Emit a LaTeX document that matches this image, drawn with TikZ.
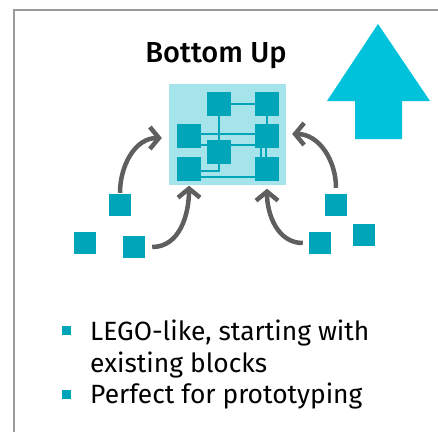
\documentclass[tikz,border=0pt]{standalone}
\usepackage{fontspec}
\setmainfont{Fira Sans}[BoldFont={Fira Sans Medium}]
\usetikzlibrary{arrows.meta}
\definecolor{teal}{HTML}{00A5BA}
\definecolor{hubfill}{HTML}{A6E4EC}
\definecolor{bigcyan}{HTML}{00C3DB}
\definecolor{arrowgray}{HTML}{5F5F5F}
\definecolor{framegray}{HTML}{9B9B9B}
\tikzset{
  block/.style={fill=teal,minimum size=24,inner sep=0},
  loose/.style={fill=teal,minimum size=22,inner sep=0},
  wire/.style={draw=teal,line width=1.2},
  mover/.style={draw=arrowgray,line width=4.5,-{Straight Barb[length=9,width=22,line width=4.5]}},
}
\begin{document}
\begin{tikzpicture}[x=1pt,y=1pt]
\useasboundingbox (0,0) rectangle (438,432);
\draw[framegray,line width=2] (14,0) -- (14,422) -- (438,422);
\node[anchor=base,font=\fontsize{29}{31}\selectfont\bfseries] (title) at (216,370) {Bottom Up};
\fill[bigcyan] (378,408) -- (430,331) -- (402,331) -- (402,293) -- (355,293) -- (355,331) -- (327,331) -- cycle;
% the assembled part
\node[fill=hubfill,minimum width=117,minimum height=101,inner sep=0] (hub) at (227.5,298) {};
\node[block] (bTM) at (219,328) {};
\node[block] (bTR) at (267,328) {};
\node[block] (bML) at (189,296) {};
\node[block] (bMR) at (267,296) {};
\node[block] (bC) at (219,280) {};
\node[block] (bBL) at (189,263) {};
\node[block] (bBR) at (267,263) {};
\draw[wire] (bTM.east) -- (bTR.west);
\draw[wire] (bTM.south) -- (bC.north);
\draw[wire] (bTR.south) -- (bMR.north);
\draw[wire] ([yshift=2]bML.east) -- ([yshift=2]bMR.west);
\draw[wire] ([yshift=-9]bML.east) -- ([yshift=-9]bML.east -| bC.west);
\draw[wire] ([yshift=7]bC.east) -- ([yshift=7]bC.east -| bMR.west);
\draw[wire] ([xshift=-6]bMR.south) -- ([xshift=-6]bBR.north);
\draw[wire] ([xshift=-1]bMR.south) -- ([xshift=-1]bBR.north);
\draw[wire] ([yshift=-2]bBL.east) -| (bC.south);
\draw[wire] ([yshift=-8]bBL.east) -- ([yshift=-8]bBR.west);
% loose blocks
\node[loose] (lA) at (120,227) {};
\node[loose] (lB) at (85,189) {};
\node[loose] (lC) at (134,185) {};
\node[loose] (rA) at (336,227) {};
\node[loose] (rB) at (320,189) {};
\node[loose] (rC) at (364,197) {};
\draw[mover] ([yshift=1]lA.north) to[out=90,in=180] ([shift={(-7,-4)}]hub.west);
\draw[mover] ([xshift=7]lC.east) to[out=0,in=-90] ([yshift=-1]hub.south -| bBL);
\draw[mover] ([yshift=6]rA.north) to[out=90,in=0] ([xshift=6]hub.east);
\draw[mover] ([xshift=-6]rB.west) to[out=180,in=-90] ([yshift=-4]hub.south -| bBR);
% bullets
\node[fill=teal,minimum size=9,inner sep=0] (bul1) at (66,102) {};
\node[fill=teal,minimum size=9,inner sep=0] (bul2) at (66,38) {};
\node[anchor=base west,align=left,inner sep=0,font=\fontsize{26.4}{31.5}\selectfont] (item1) at (90,60) {LEGO-like, starting with\\existing blocks};
\node[anchor=base west,inner sep=0,font=\fontsize{26.4}{31.5}\selectfont] (item2) at (90,29) {Perfect for prototyping};
\end{tikzpicture}
\end{document}
